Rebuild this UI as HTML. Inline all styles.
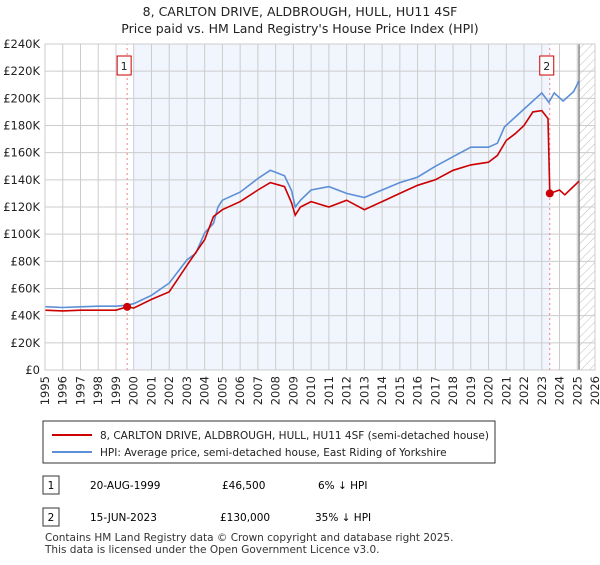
<!DOCTYPE html>
<html><head><meta charset="utf-8"><style>
body{margin:0;background:#fff;font-family:"Liberation Sans",sans-serif;}
svg text{font-family:"DejaVu Sans","Liberation Sans",sans-serif;}
</style></head><body>
<svg id="c" width="600" height="560" xmlns="http://www.w3.org/2000/svg">
<defs><pattern id="hatch" width="6" height="6" patternUnits="userSpaceOnUse" patternTransform="rotate(45)"><line x1="0" y1="0" x2="0" y2="6" stroke="#bbb" stroke-width="1"/></pattern></defs>
<text x="300" y="16" text-anchor="middle" font-size="12.5" fill="#222">8, CARLTON DRIVE, ALDBROUGH, HULL, HU11 4SF</text>
<text x="300" y="33" text-anchor="middle" font-size="12.5" fill="#222">Price paid vs. HM Land Registry's House Price Index (HPI)</text>
<g id="plot"></g>
<rect x="43" y="421" width="452" height="42" fill="#fff" stroke="#333"/>
<line x1="52" y1="435" x2="92" y2="435" stroke="#cc0000" stroke-width="2"/>
<text x="100" y="439" font-size="10.5" fill="#222">8, CARLTON DRIVE, ALDBROUGH, HULL, HU11 4SF (semi-detached house)</text>
<line x1="52" y1="452" x2="92" y2="452" stroke="#5b8fd6" stroke-width="2"/>
<text x="100" y="456" font-size="10.5" fill="#222">HPI: Average price, semi-detached house, East Riding of Yorkshire</text>
<rect x="43" y="476" width="16" height="18" fill="#fff" stroke="#333"/>
<text x="51" y="489" font-size="10.5" text-anchor="middle">1</text>
<text x="90" y="489" font-size="10.5">20-AUG-1999</text>
<text x="222" y="489" font-size="10.5">£46,500</text>
<text x="318" y="489" font-size="10.5">6% ↓ HPI</text>
<rect x="43" y="508" width="16" height="18" fill="#fff" stroke="#333"/>
<text x="51" y="521" font-size="10.5" text-anchor="middle">2</text>
<text x="90" y="521" font-size="10.5">15-JUN-2023</text>
<text x="220" y="521" font-size="10.5">£130,000</text>
<text x="315" y="521" font-size="10.5">35% ↓ HPI</text>
<text x="45" y="541" font-size="10.5" fill="#333">Contains HM Land Registry data © Crown copyright and database right 2025.</text>
<text x="45" y="553" font-size="10.5" fill="#333">This data is licensed under the Open Government Licence v3.0.</text>
</svg>
<script>
const yTicks=[0,20,40,60,80,100,120,140,160,180,200,220,240];
const xYears=[1995,1996,1997,1998,1999,2000,2001,2002,2003,2004,2005,2006,2007,2008,2009,2010,2011,2012,2013,2014,2015,2016,2017,2018,2019,2020,2021,2022,2023,2024,2025,2026];
const hpiYears=[1995,1996,1997,1998,1999,1999.6,2000,2001,2002,2003,2003.5,2004,2004.5,2004.75,2005,2006,2007,2007.7,2008.5,2008.9,2009.1,2009.4,2010,2011,2012,2013,2014,2015,2016,2017,2018,2019,2020,2020.5,2020.9,2021.9,2023,2023.4,2023.7,2024.2,2024.8,2025.1];
const hpiValues=[46.6,46,46.5,47,47,47.7,48.8,55,64,81,86,101,108,120,125,131,141,147,143,132,120,125,132.5,135,130,127,132.5,138,142,150,157,164,164,167,179,191,204,197,204,198,205,213];
const ppYears=[1995,1996,1997,1998,1999,1999.63,2000,2001,2002,2003,2004,2004.5,2005,2006,2007,2007.7,2008.5,2008.9,2009.1,2009.4,2010,2011,2012,2013,2014,2015,2016,2017,2018,2019,2020,2020.5,2021,2021.5,2022,2022.5,2023,2023.35,2023.45,2024,2024.3,2024.7,2025.1];
const ppValues=[44,43.5,44,44,44,46.5,45.6,52,57.6,77,96,113,118,124,132.5,138,135,123,114,120,124,120,125,118,124,130,136,140,147,151,153,158,169,174,180,190,191,185,130,132.5,129,134,139];
const sales=[[1999.63,46.5,"1"],[2023.45,130,"2"]];
const X=y=>45+(y-1995)*550/31, Y=v=>370-v*326/240;
const NS="http://www.w3.org/2000/svg", g=document.getElementById('plot');
function mk(t,a,p){const e=document.createElementNS(NS,t);for(const k in a)e.setAttribute(k,a[k]);(p||g).appendChild(e);return e;}
let e=mk('rect',{x:X(2000),y:Y(240),width:X(2023.45)-X(2000),height:Y(0)-Y(240),fill:'#eef3fc',opacity:0.8});


e=mk('rect',{x:X(2025.1),y:Y(240),width:X(2026)-X(2025.1),height:Y(0)-Y(240),fill:'url(#hatch)'});


yTicks.forEach(v=>{
 let l=mk('line',{x1:45,x2:595,y1:Y(v),y2:Y(v),stroke:'#ccc'});
 
 
 let t=mk('text',{x:40,y:Y(v)+4,'text-anchor':'end','font-size':11.5,fill:'#222'});t.textContent=v===0?'£0':'£'+v+'K';
 
 
});
xYears.forEach(yr=>{
 let l=mk('line',{x1:X(yr),x2:X(yr),y1:Y(0),y2:Y(240),stroke:'#ccc'});
 
 
 let t=mk('text',{x:0,y:0,'font-size':11.5,fill:'#222','text-anchor':'end',transform:`translate(${X(yr)+4},${Y(0)+6}) rotate(-90)`});t.textContent=yr;
 
 
});
e=mk('line',{x1:X(2025.1),x2:X(2025.1),y1:Y(0),y2:Y(240),stroke:'#888','stroke-width':1.5});


sales.forEach(s=>{
 let l=mk('line',{x1:X(s[0]),x2:X(s[0]),y1:Y(0),y2:Y(240),stroke:'#f08080','stroke-dasharray':'2,3'});
 
 
});
function line(xs,vs,col,name){let d=xs.map((x,i)=>(i?'L':'M')+X(x).toFixed(1)+','+Y(vs[i]).toFixed(1)).join('');
 let p=mk('path',{d:d,fill:'none',stroke:col,'stroke-width':1.6});
 
 }
line(hpiYears,hpiValues,'#5b8fd6','hpi-line');
line(ppYears,ppValues,'#cc0000','price-paid-line');
sales.forEach(s=>{
 let c=mk('circle',{cx:X(s[0]),cy:Y(s[1]),r:4,fill:'#cc0000'});
 
 
 let r=mk('rect',{x:X(s[0])-10,y:56,width:14,height:19,fill:'#fff',stroke:'#cc0000'});
 
 
 let t=mk('text',{x:X(s[0])-3,y:70,'text-anchor':'middle','font-size':11,fill:'#222'});t.textContent=s[2];
 
 
});
e=mk('rect',{x:45,y:Y(240),width:550,height:Y(0)-Y(240),fill:'none',stroke:'#ccc'});


</script>
</body></html>
